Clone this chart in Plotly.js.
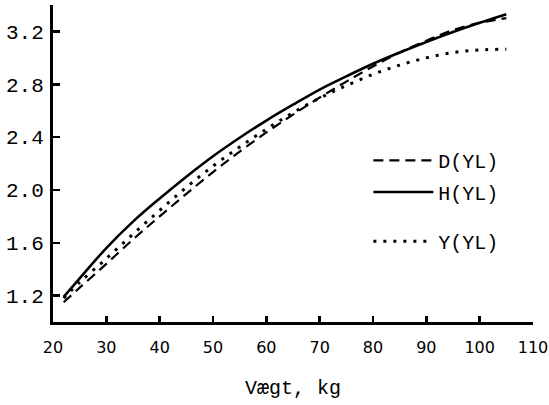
<!DOCTYPE html>
<html>
<head>
<meta charset="utf-8">
<script src="https://cdn.plot.ly/plotly-3.0.1.min.js"></script>
<style>html,body{margin:0;padding:0;background:#fff;}#chart{width:549px;height:405px;}</style>
</head>
<body>
<div id="chart"></div>
<script>
// Weight (kg)
const weightKg = [22, 25, 30, 35, 40, 45, 50, 55, 60, 65, 70, 75, 80, 85, 90, 95, 100, 105];
// Series values
const seriesD = [1.15, 1.26, 1.44, 1.625, 1.80, 1.97, 2.135, 2.29, 2.435, 2.57, 2.70, 2.82, 2.935, 3.04, 3.13, 3.21, 3.265, 3.30];
const seriesH = [1.19, 1.33, 1.56, 1.76, 1.935, 2.10, 2.255, 2.395, 2.525, 2.645, 2.76, 2.86, 2.955, 3.04, 3.12, 3.195, 3.265, 3.33];
const seriesY = [1.18, 1.30, 1.48, 1.665, 1.845, 2.02, 2.18, 2.325, 2.46, 2.585, 2.695, 2.79, 2.875, 2.945, 3.0, 3.04, 3.06, 3.065];
const seriesNames = ["D(YL)", "H(YL)", "Y(YL)"];
const xTickVals = [20, 30, 40, 50, 60, 70, 80, 90, 100, 110];
const yTickVals = [1.2, 1.6, 2.0, 2.4, 2.8, 3.2];

const mono = "'Liberation Mono', 'Courier New', monospace";
const sans = "'DejaVu Sans', sans-serif";

const traces = [
  {x: weightKg, y: seriesD, name: seriesNames[0], mode: 'lines', legend: 'legend',
   line: {color: '#000', width: 2.2, dash: '10px,6px', shape: 'spline', smoothing: 1}},
  {x: weightKg, y: seriesH, name: seriesNames[1], mode: 'lines', legend: 'legend2',
   line: {color: '#000', width: 2.6, shape: 'spline', smoothing: 1}},
  {x: weightKg, y: seriesY, name: seriesNames[2], mode: 'lines', legend: 'legend3',
   line: {color: '#000', width: 3, dash: '3px,7px', shape: 'spline', smoothing: 1}}
];

function leg(y) {
  return {x: 0.657, y: y, xanchor: 'left', yanchor: 'middle', bgcolor: 'rgba(0,0,0,0)',
          font: {family: mono, size: 20, color: '#000'}, itemwidth: 60};
}

const layout = {
  width: 549, height: 405,
  margin: {l: 53, r: 16, t: 5, b: 83},
  paper_bgcolor: '#fff', plot_bgcolor: '#fff',
  showlegend: true,
  legend: leg(0.51),
  legend2: leg(0.41),
  legend3: leg(0.255),
  xaxis: {
    range: [20, 110], tickvals: xTickVals, ticktext: xTickVals.map(String),
    ticks: 'inside', ticklen: 6, tickwidth: 2.5, tickcolor: '#000',
    showline: true, linewidth: 3, linecolor: '#000', showgrid: false, zeroline: false,
    tickfont: {family: sans, size: 16, color: '#000'}, ticklabelstandoff: 9,
    title: {text: 'Vægt, kg', font: {family: mono, size: 20, color: '#000'}, standoff: 24}
  },
  yaxis: {
    range: [1.0, 3.4], tickvals: yTickVals, ticktext: yTickVals.map(v => v.toFixed(1)),
    ticks: 'inside', ticklen: 7, tickwidth: 2.5, tickcolor: '#000',
    showline: true, linewidth: 3, linecolor: '#000', showgrid: false, zeroline: false,
    tickfont: {family: mono, size: 21, color: '#000'}, ticklabelstandoff: 2
  }
};

Plotly.newPlot('chart', traces, layout, {displayModeBar: false, staticPlot: true});
</script>
</body>
</html>
